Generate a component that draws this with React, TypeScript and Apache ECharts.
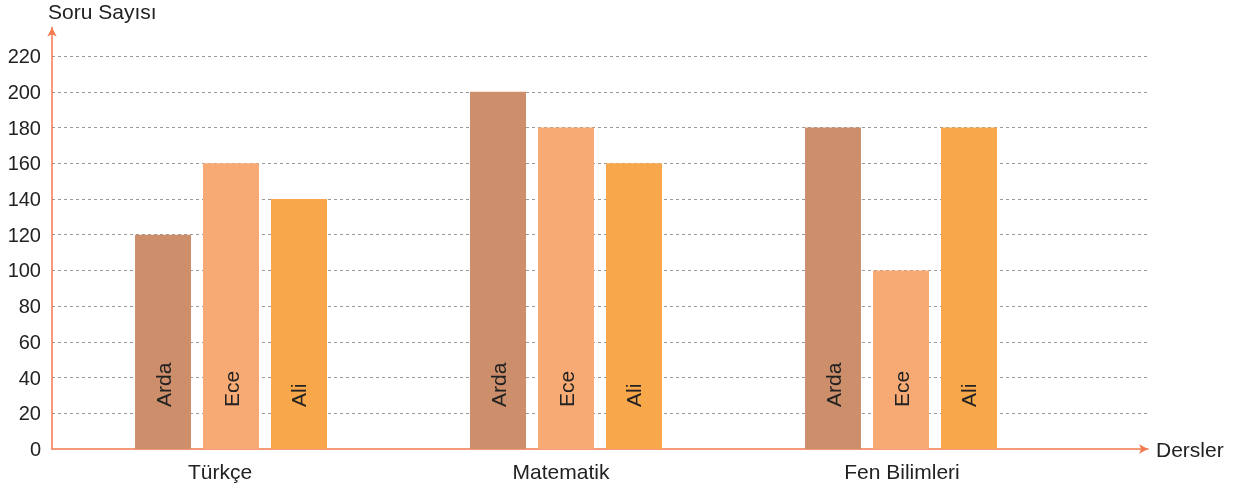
import React, { useEffect, useRef } from "react";
import * as echarts from "echarts";

const categories = ["Türkçe", "Matematik", "Fen Bilimleri"];
const arda = [120, 200, 180];
const ece = [160, 180, 100];
const ali = [140, 160, 180];
const seriesNames = ["Arda", "Ece", "Ali"];
const colors = ["#CD8E6B", "#F8AA75", "#F8A84A"];

const AXIS = "#F27A4E";
const FONT = "Liberation Sans, Arial, sans-serif";

export default function App() {
  const ref = useRef<HTMLDivElement>(null);
  useEffect(() => {
    const chart = echarts.init(ref.current!, null, { renderer: "svg" });
    const top = 27.5;
    const bottom = 492 - 449;
    const yMax = 236;
    const values = [arda, ece, ali];
    chart.setOption({
      animation: false,
      textStyle: { fontFamily: FONT },
      grid: [
        { left: 52, right: 1235 - 1148, top, bottom, containLabel: false },
        { left: 63.5, width: 1005, top, bottom, containLabel: false },
        { left: 49.5, width: 1023, top, bottom, containLabel: false },
      ],
      xAxis: [
        {
          gridIndex: 0,
          type: "value",
          min: 0,
          max: 1,
          name: "Dersler",
          nameLocation: "end",
          nameGap: 8,
          nameTextStyle: { fontSize: 21, color: "#222", fontFamily: FONT },
          axisLine: { show: true, lineStyle: { color: AXIS, width: 1.5 }, symbol: ["none", "arrow"], symbolSize: [7, 9] },
          axisTick: { show: false },
          axisLabel: { show: false },
          splitLine: { show: false },
        },
        {
          gridIndex: 1,
          type: "category",
          data: categories,
          show: false,
          axisLine: { show: false },
          axisTick: { show: false },
          axisLabel: { show: false },
          splitLine: { show: false },
        },
        {
          gridIndex: 2,
          type: "category",
          data: categories,
          axisLine: { show: false },
          axisTick: { show: false },
          axisLabel: { show: true, fontSize: 21, color: "#222", margin: 12, fontFamily: FONT },
          splitLine: { show: false },
        },
      ],
      yAxis: [
        {
          gridIndex: 0,
          type: "value",
          min: 0,
          max: yMax,
          interval: 20,
          name: "Soru Sayısı",
          nameLocation: "end",
          nameGap: 6,
          nameTextStyle: { fontSize: 21, color: "#222", align: "left", padding: [0, 0, 0, -4], fontFamily: FONT },
          axisLine: { show: true, lineStyle: { color: AXIS, width: 1.5 }, symbol: ["none", "arrow"], symbolSize: [7, 9] },
          axisTick: { show: false },
          axisLabel: { fontSize: 20, color: "#222", margin: 11, showMaxLabel: false, fontFamily: FONT },
          splitLine: { show: true, showMinLine: false, showMaxLine: false, lineStyle: { color: "#999", type: [3, 3], width: 1 } },
        },
        {
          gridIndex: 1,
          type: "value",
          min: 0,
          max: yMax,
          show: false,
          splitLine: { show: false },
        },
        {
          gridIndex: 2,
          type: "value",
          min: 0,
          max: yMax,
          show: false,
          splitLine: { show: false },
        },
      ],
      series: seriesNames.map((name, i) => ({
        name,
        type: "bar",
        xAxisIndex: 1,
        yAxisIndex: 1,
        data: values[i],
        barWidth: 56,
        barGap: "21.4%",
        itemStyle: { color: colors[i] },
        label: {
          show: true,
          position: "insideBottom",
          rotate: 90,
          align: "left",
          verticalAlign: "middle",
          distance: 42,
          formatter: name,
          fontSize: 21,
          color: "#222",
          fontFamily: FONT,
        },
      })),
    });
    return () => chart.dispose();
  }, []);
  return <div ref={ref} style={{ position: "fixed", left: 0, top: 0, width: 1235, height: 492 }} />;
}
